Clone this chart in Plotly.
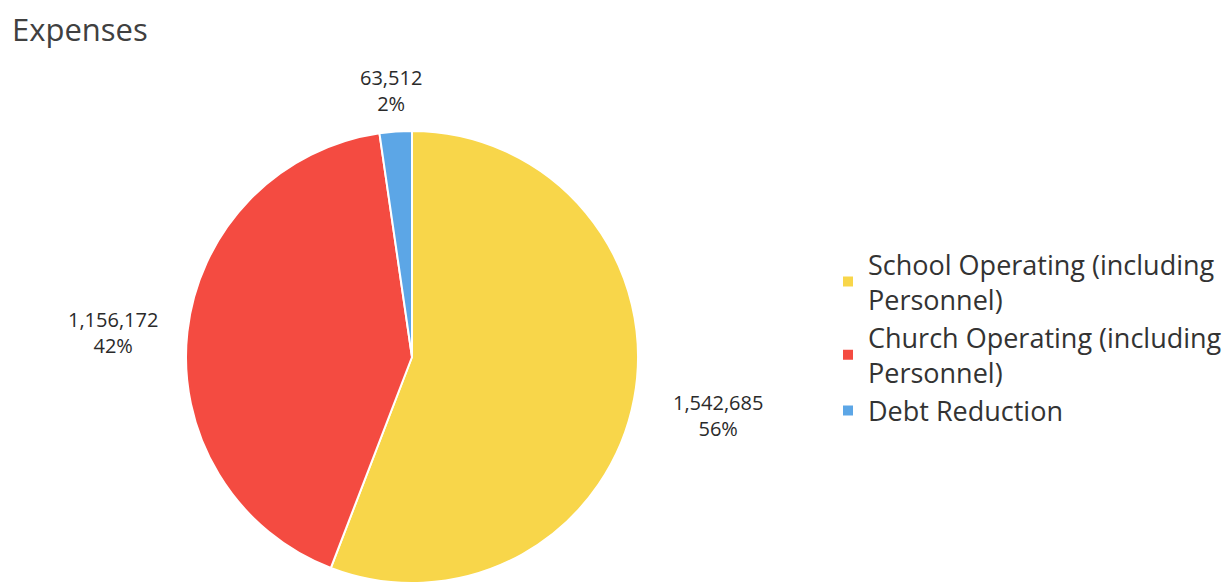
import plotly.graph_objects as go

categories = ["School Operating (including<br>Personnel)",
              "Church Operating (including<br>Personnel)",
              "Debt Reduction"]
values = [1542685, 1156172, 63512]
percent_labels = ["56%", "42%", "2%"]
colors = ["#F8D64A", "#F44B41", "#5CA6E6"]

W, H = 1232, 587
cx_px, cy_px, r_px = 412, 357, 226

dom_x = [(cx_px - r_px) / W, (cx_px + r_px) / W]
cy_paper = 1 - cy_px / H
dom_y = [cy_paper - r_px / H, cy_paper + r_px / H]

fig = go.Figure()
fig.add_trace(go.Pie(
    labels=categories,
    values=values,
    sort=False,
    direction="clockwise",
    rotation=0,
    marker=dict(colors=colors, line=dict(color="white", width=2)),
    textinfo="none",
    domain=dict(x=dom_x, y=dom_y),
    showlegend=True,
))

# data labels (positions in paper coordinates)
label_pos = [(718, 415), (113, 332), (391, 90)]
for v, p, (px, py) in zip(values, percent_labels, label_pos):
    fig.add_annotation(
        x=px / W, y=1 - py / H, xref="paper", yref="paper",
        text=f"{v:,}<br>{p}", showarrow=False,
        font=dict(family="Open Sans", size=20, color="#2a2a2a"),
        align="center", xanchor="center", yanchor="middle",
    )

fig.update_layout(
    width=W, height=H,
    margin=dict(l=0, r=0, t=0, b=0),
    paper_bgcolor="white",
    plot_bgcolor="white",
    title=dict(text="Expenses", x=12 / W, xanchor="left", y=1 - 30 / H, yanchor="middle",
               xref="paper", yref="paper",
               font=dict(family="Open Sans", size=31, color="#404040")),
    legend=dict(x=828 / W, xanchor="left", y=1 - 240 / H, yanchor="top",
                font=dict(family="Open Sans", size=27, color="#333333"),
                itemwidth=30, bgcolor="rgba(0,0,0,0)"),
)

post = "document.body.style.margin = '0';"
fig.write_html("out.html", post_script=post, config={"displayModeBar": False})
